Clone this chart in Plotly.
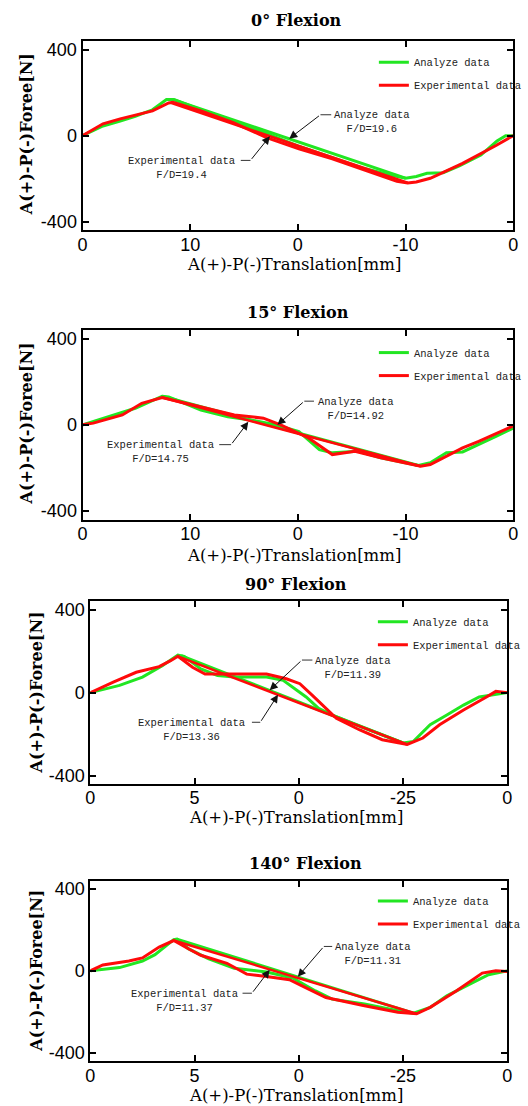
import plotly.graph_objects as go

# ---------------- data ----------------
titles = ["0° Flexion", "15° Flexion", "90° Flexion", "140° Flexion"]
tick_pos = [0, 1, 2, 3, 4]
tick_labels_a = ["0", "10", "0", "-10", "0"]
tick_labels_b = ["0", "5", "0", "-25", "0"]

# Panel 1 : 0° flexion
g1x = [0, 0.19, 0.35, 0.49, 0.65, 0.78, 0.85, 1.1, 1.4, 1.7, 2.0, 2.3, 2.6, 2.85, 3.0, 3.1, 3.2, 3.35, 3.5, 3.7, 3.85, 3.93, 4.0]
g1y = [0, 45, 68, 90, 120, 168, 168, 120, 68, 12, -48, -100, -150, -182, -198, -190, -175, -172, -140, -90, -25, 0, 0]
r1x = [0, 0.1, 0.19, 0.35, 0.49, 0.65, 0.8, 0.84, 1.1, 1.4, 1.71, 2.01, 2.32, 2.62, 2.92, 3.02, 3.1, 3.23, 3.53, 3.84, 4.0]
r1y = [0, 30, 55, 78, 96, 115, 152, 155, 115, 60, -9, -61, -108, -161, -212, -220, -215, -198, -129, -46, 0]
g1fx = [0.85, 3.0]
g1fy = [166, -197]
r1fx = [0.82, 3.02]
r1fy = [152, -218]

# Panel 2 : 15° flexion
g2x = [0, 0.19, 0.49, 0.74, 0.8, 1.1, 1.35, 1.56, 1.8, 2.01, 2.2, 2.32, 2.56, 2.77, 3.12, 3.23, 3.38, 3.53, 3.68, 3.84, 4.0]
g2y = [0, 31, 77, 133, 130, 69, 38, 23, 0, -31, -115, -130, -123, -153, -189, -176, -130, -126, -92, -54, -15]
r2x = [0, 0.1, 0.37, 0.55, 0.74, 1.1, 1.41, 1.68, 1.84, 2.1, 2.32, 2.53, 2.77, 3.14, 3.23, 3.53, 3.68, 4.0]
r2y = [0, 8, 46, 100, 127, 84, 46, 31, 0, -61, -138, -123, -153, -192, -184, -107, -77, -5]
g2fx = [0.74, 3.12]
g2fy = [133, -189]
r2fx = [0.74, 3.14]
r2fy = [127, -192]

# Panel 3 : 90° flexion
g3x = [0, 0.28, 0.5, 0.69, 0.84, 0.9, 1.06, 1.22, 1.38, 1.69, 1.85, 1.94, 2.07, 2.19, 2.32, 2.6, 3.0, 3.1, 3.26, 3.42, 3.58, 3.73, 4.0]
g3y = [0, 35, 75, 130, 181, 175, 114, 83, 75, 75, 59, 27, -21, -76, -108, -165, -243, -235, -155, -108, -60, -21, 0]
r3x = [0, 0.22, 0.44, 0.53, 0.66, 0.77, 0.84, 0.98, 1.1, 1.38, 1.69, 1.88, 2.01, 2.13, 2.23, 2.36, 2.58, 2.8, 3.04, 3.19, 3.35, 3.58, 3.8, 3.89, 4.0]
r3y = [0, 51, 98, 110, 125, 154, 175, 122, 90, 90, 90, 67, 43, -13, -60, -124, -179, -227, -250, -219, -155, -84, -21, 6, 0]
g3fx = [0.87, 3.0]
g3fy = [178, -243]
r3fx = [0.84, 3.04]
r3fy = [175, -250]

# Panel 4 : 140° flexion
g4x = [0, 0.28, 0.5, 0.62, 0.8, 0.83, 0.94, 1.13, 1.38, 1.69, 1.94, 2.16, 2.32, 2.63, 2.95, 3.1, 3.26, 3.42, 3.63, 3.82, 4.0]
g4y = [0, 16, 48, 79, 152, 155, 108, 60, 13, -6, -35, -98, -138, -162, -194, -206, -178, -122, -67, -19, 0]
r4x = [0, 0.12, 0.37, 0.5, 0.66, 0.8, 0.94, 1.06, 1.31, 1.5, 1.69, 1.91, 2.07, 2.26, 2.63, 2.95, 3.13, 3.26, 3.51, 3.76, 3.89, 4.0]
r4y = [0, 29, 48, 63, 116, 148, 108, 76, 37, -16, -27, -43, -83, -130, -170, -202, -209, -178, -98, -11, 0, -3]
g4fx = [0.83, 3.10]
g4fy = [155, -206]
r4fx = [0.80, 3.13]
r4fy = [148, -209]

# Callout texts and positions
ana_text = ["Analyze data<br>F/D=19.6", "Analyze data<br>F/D=14.92", "Analyze data<br>F/D=11.39", "Analyze data<br>F/D=11.31"]
exp_text = ["Experimental data<br>F/D=19.4", "Experimental data<br>F/D=14.75", "Experimental data<br>F/D=13.36", "Experimental data<br>F/D=11.37"]
ana_pos = [(2.69, 62), (2.54, 74), (2.52, 121), (2.71, 83)]
exp_pos = [(0.92, -150), (0.72, -126), (0.97, -178), (0.90, -148)]
# leader: (start x, elbow x, y, tip x, tip y)
ana_lead = [(2.31, 2.21, 97, 1.92, -14), (2.15, 2.06, 110, 1.81, 0), (2.13, 2.03, 157, 1.72, 12), (2.32, 2.24, 119, 1.99, -29)]
exp_lead = [(1.47, 1.56, -115, 1.74, -3), (1.27, 1.38, -92, 1.54, 14), (1.55, 1.63, -143, 1.80, -10), (1.46, 1.55, -109, 1.72, 5)]

# ---------------- layout geometry ----------------
W, H = 528, 1106
panels = [
    dict(x0=79, x1=518, y0=40, y1=230, ticks=tick_labels_a),
    dict(x0=79, x1=518, y0=330, y1=520, ticks=tick_labels_a),
    dict(x0=87, x1=512, y0=602, y1=785, ticks=tick_labels_b),
    dict(x0=87, x1=512, y0=882, y1=1063, ticks=tick_labels_b),
]
title_px = [(297, 20), (299, 312), (297, 585), (306, 865)]
xt_px = [(295, 264), (295, 556), (297, 819), (297, 1097)]
yt_px = [(22, 134), (22, 424), (32, 693), (32, 972)]
leg_px = [(376, 47), (376, 338), (375, 608), (375, 888)]

series = [
    (g1x, g1y, r1x, r1y, g1fx, g1fy, r1fx, r1fy),
    (g2x, g2y, r2x, r2y, g2fx, g2fy, r2fx, r2fy),
    (g3x, g3y, r3x, r3y, g3fx, g3fy, r3fx, r3fy),
    (g4x, g4y, r4x, r4y, g4fx, g4fy, r4fx, r4fy),
]

GREEN = "#22e622"
RED = "#ff0a0a"
MONO = "Liberation Mono"
SERIF = "DejaVu Serif"

fig = go.Figure()
annotations = []
shapes = []
layout = {}

for i, (gx, gy, rx, ry, gfx, gfy, rfx, rfy) in enumerate(series):
    n = "" if i == 0 else str(i + 1)
    xa, ya = "x" + n, "y" + n
    leg = "legend" + n
    fig.add_trace(go.Scatter(x=gfx, y=gfy, mode="lines", line=dict(color=GREEN, width=3),
                             xaxis=xa, yaxis=ya, showlegend=False, legend=leg, hoverinfo="skip"))
    fig.add_trace(go.Scatter(x=gx, y=gy, mode="lines", line=dict(color=GREEN, width=3),
                             xaxis=xa, yaxis=ya, name="Analyze data", legend=leg,
                             legendgroup="g" + n, showlegend=True))
    fig.add_trace(go.Scatter(x=rfx, y=rfy, mode="lines", line=dict(color=RED, width=2.5),
                             xaxis=xa, yaxis=ya, showlegend=False, legend=leg, hoverinfo="skip"))
    fig.add_trace(go.Scatter(x=rx, y=ry, mode="lines", line=dict(color=RED, width=3),
                             xaxis=xa, yaxis=ya, name="Experimental data", legend=leg,
                             legendgroup="r" + n, showlegend=True))

    p = panels[i]
    axis_common = dict(showline=True, linewidth=2, linecolor="black", mirror="allticks",
                       ticks="inside", ticklen=6, tickwidth=2, tickcolor="black",
                       showgrid=False, zeroline=False,
                       tickfont=dict(family="Liberation Sans", size=18, color="black"))
    layout["xaxis" + n] = dict(domain=[p["x0"] / W, p["x1"] / W], anchor=ya,
                               range=[0, 4], tickmode="array", tickvals=tick_pos,
                               ticktext=p["ticks"], ticklabelstandoff=-3, **axis_common)
    layout["yaxis" + n] = dict(domain=[1 - p["y1"] / H, 1 - p["y0"] / H], anchor=xa,
                               range=[-440, 440], tickmode="array", tickvals=[-400, 0, 400],
                               ticktext=["-400", "0", "400"], **axis_common)

    lx, ly = leg_px[i]
    layout[leg] = dict(x=lx / W, y=1 - ly / H, xanchor="left", yanchor="top",
                       bgcolor="rgba(0,0,0,0)", borderwidth=0, traceorder="grouped",
                       font=dict(family=MONO, size=10.5, color="#222"),
                       itemwidth=30, tracegroupgap=4)

    tx, ty = title_px[i]
    annotations.append(dict(xref="paper", yref="paper", x=tx / W, y=1 - ty / H,
                            text="<b>" + titles[i] + "</b>", showarrow=False,
                            font=dict(family=SERIF, size=16, color="black"),
                            xanchor="center", yanchor="middle"))
    tx, ty = xt_px[i]
    annotations.append(dict(xref="paper", yref="paper", x=tx / W, y=1 - ty / H,
                            text="A(+)-P(-)Translation[mm]", showarrow=False,
                            font=dict(family=SERIF, size=16.5, color="black"),
                            xanchor="center", yanchor="middle"))
    tx, ty = yt_px[i]
    annotations.append(dict(xref="paper", yref="paper", x=tx / W, y=1 - ty / H,
                            text="<b>A(+)-P(-)Foree[N]</b>", showarrow=False, textangle=-90,
                            font=dict(family=SERIF, size=16, color="black"),
                            xanchor="center", yanchor="middle"))

    for txt, pos, lead in ((ana_text[i], ana_pos[i], ana_lead[i]), (exp_text[i], exp_pos[i], exp_lead[i])):
        annotations.append(dict(xref=xa, yref=ya, x=pos[0], y=pos[1], text=txt, showarrow=False,
                                font=dict(family=MONO, size=10.5, color="#222"),
                                xanchor="center", yanchor="middle", align="center"))
        sx, ex, ly_, tipx, tipy = lead
        shapes.append(dict(type="line", xref=xa, yref=ya, x0=sx, x1=ex, y0=ly_, y1=ly_,
                           line=dict(color="#333", width=1)))
        annotations.append(dict(xref=xa, yref=ya, x=tipx, y=tipy, axref=xa, ayref=ya,
                                ax=ex, ay=ly_, text="", showarrow=True, arrowhead=2,
                                arrowsize=1.6, arrowwidth=1, arrowcolor="#111", standoff=0))

fig.update_layout(width=W, height=H, margin=dict(l=0, r=0, t=0, b=0),
                  paper_bgcolor="white", plot_bgcolor="white",
                  annotations=annotations, shapes=shapes, **layout)

fig.write_html("out.html", config={"displayModeBar": False},
               post_script="document.body.style.margin='0';document.body.style.overflow='hidden';")
